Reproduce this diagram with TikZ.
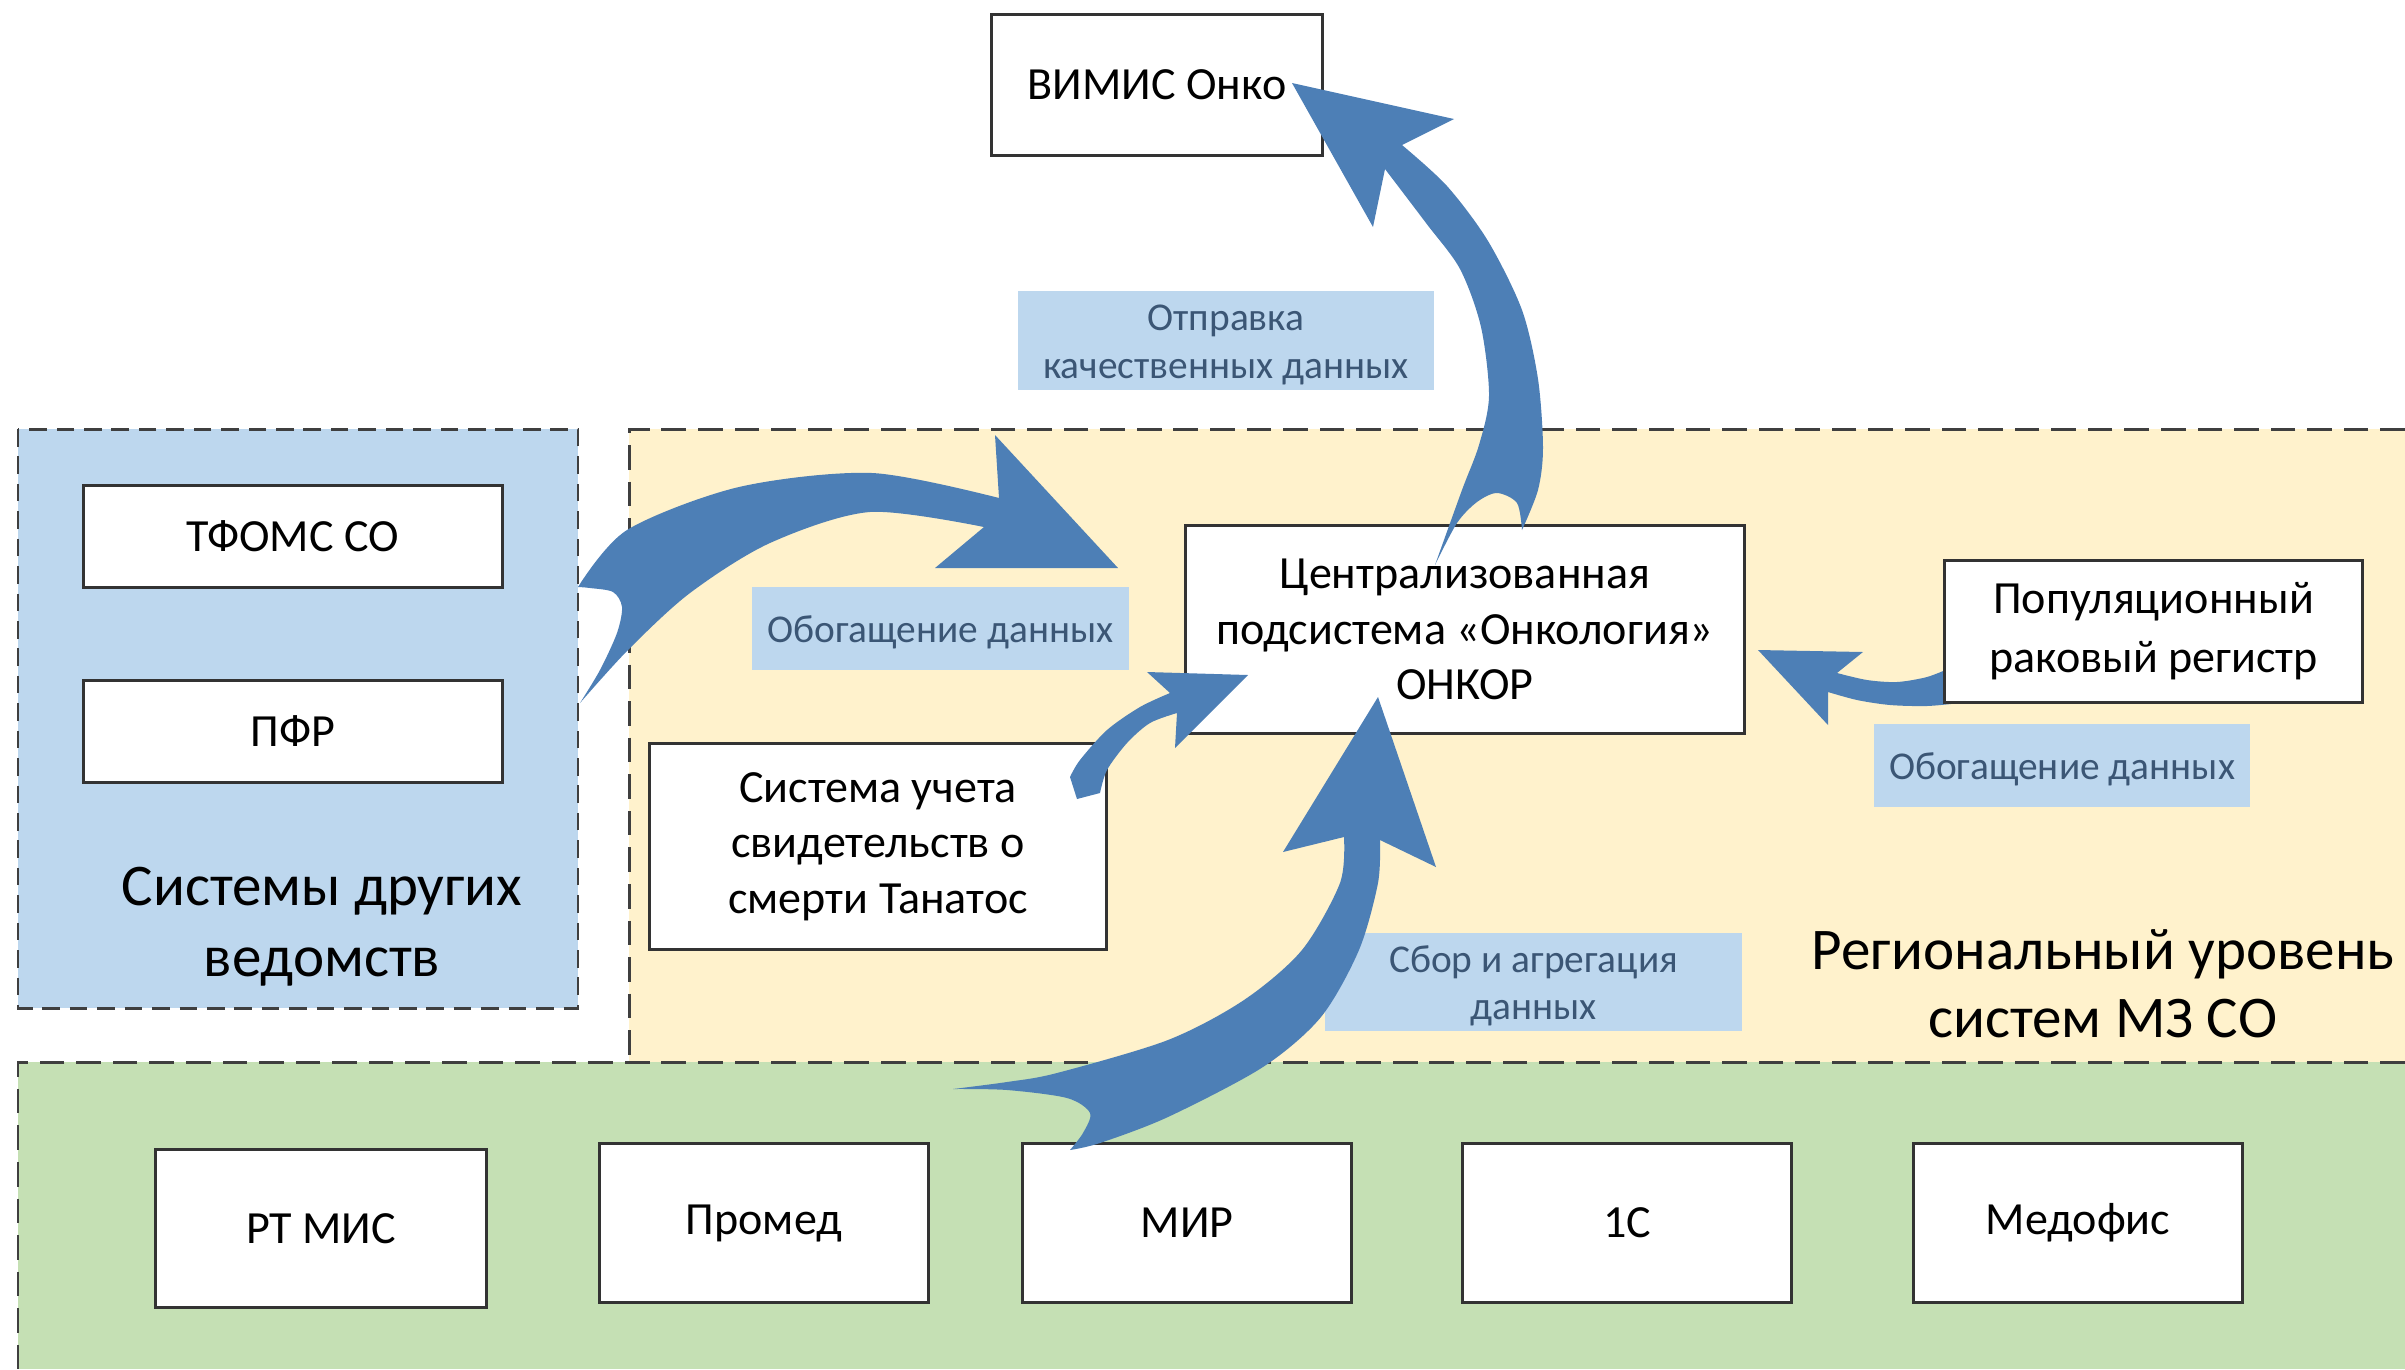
\documentclass[tikz,border=0pt]{standalone}
\usepackage{fontspec}
\setmainfont{Carlito}
\definecolor{regblue}{HTML}{BDD7EE}
\definecolor{regyellow}{HTML}{FFF2CC}
\definecolor{reggreen}{HTML}{C5E0B4}
\definecolor{lblblue}{HTML}{BDD7EE}
\definecolor{lbltext}{HTML}{3B5675}
\definecolor{arrowblue}{HTML}{4D7FB6}
\definecolor{boxline}{HTML}{333333}
\definecolor{dashline}{HTML}{3F3F3F}
\tikzset{
  box/.style={draw=boxline, line width=0.85pt, fill=white, align=center, inner sep=0pt,
    font=\fontsize{13.1}{15.8}\selectfont},
  lblbg/.style={fill=lblblue},
  lbl/.style={text=lbltext, align=center, inner sep=0pt,
    font=\fontsize{11.2}{13.5}\selectfont},
  regionline/.style={draw=dashline, line width=0.85pt, dash pattern=on 7pt off 3.4pt},
  bluedash/.style={draw=dashline, line width=0.85pt, dash pattern=on 5pt off 2.8pt},
  bigtext/.style={align=center, inner sep=0pt, font=\fontsize{16.8}{20.2}\selectfont},
  blockarrow/.style={fill=arrowblue},
}
\begin{document}
\begin{tikzpicture}[x=0.01cm,y=-0.01cm]
\useasboundingbox (0,0) rectangle (2405,1369);
% regions
\fill[regyellow] (629,429) rectangle (2405,1062);
\draw[regionline] (2405,429) -- (629,429) -- (629,1062);
\fill[reggreen] (18,1062) rectangle (2405,1369);
\draw[regionline] (2405,1062) -- (18,1062) -- (18,1369);
\fill[regblue] (18,429) rectangle (578,1008);
\draw[bluedash] (18,429) rectangle (578,1008);

% label backgrounds and texts
\fill[lblblue] (1018,291) rectangle (1434,390);
\fill[lblblue] (752,587) rectangle (1129,670);
\fill[lblblue] (1874,724) rectangle (2250,807);
\fill[lblblue] (1325,933) rectangle (1742,1031);
\node[lbl] (lsend) at (1226,345) {Отправка\\качественных данных};
\node[lbl] (lenr1) at (940.5,632) {Обогащение данных};
\node[lbl] (lenr2) at (2062,769) {Обогащение данных};
\node[lbl] (lcoll) at (1533.5,986) {Сбор и агрегация\\данных};

% arrow from population registry (under the box)
\fill[blockarrow] plot[smooth] coordinates {(1950,668) (1927,677) (1897,682) (1867,680) (1837,673)}
  -- (1863,652) -- (1758,650) -- (1828,725)
  -- plot[smooth] coordinates {(1828,692) (1857,700) (1890,705) (1927,706) (1960,703)}
  -- (1965,690) -- cycle;

% boxes
\node[box, minimum width=3.30cm, minimum height=1.40cm] (vimis) at (1157,85) {ВИМИС Онко};
\node[box, minimum width=5.58cm, minimum height=2.07cm] (onkor) at (1465,629.5) {Централизованная\\подсистема «Онкология»\\ОНКОР};
\node[box, minimum width=4.18cm, minimum height=1.01cm] (tfoms) at (293,536.5) {ТФОМС СО};
\node[box, minimum width=4.18cm, minimum height=1.01cm] (pfr) at (293,731.5) {ПФР};
\node[box, minimum width=4.56cm, minimum height=2.05cm] (tanatos) at (878,846.5) {Система учета\\свидетельств о\\смерти Танатос};
\node[box, minimum width=4.17cm, minimum height=1.41cm, font=\fontsize{13.1}{16.8}\selectfont] (popul) at (2153.5,631.5) {Популяционный\\раковый регистр};
\node[box, minimum width=3.30cm, minimum height=1.57cm] (rtmis) at (321,1228.5) {РТ МИС};
\node[box, minimum width=3.28cm, minimum height=1.58cm] (promed) at (764,1223) {Промед};
\node[box, minimum width=3.28cm, minimum height=1.58cm] (mir) at (1187,1223) {МИР};
\node[box, minimum width=3.28cm, minimum height=1.58cm] (onec) at (1627,1223) {1С};
\node[box, minimum width=3.28cm, minimum height=1.58cm] (medofis) at (2078,1223) {Медофис};

% region titles
\node[bigtext] (tother) at (322,927) {Системы других\\ведомств};
\node[bigtext, font=\fontsize{16.8}{19.3}\selectfont] (tregion) at (2103,984) {Региональный уровень\\систем МЗ СО};

% arrow A: other agencies -> ONKOR
\fill[blockarrow] plot[smooth] coordinates {(578,587) (627,530) (739,487) (872,473) (999,498)}
  -- (995,435) -- (1118,568) -- (935,568)
  -- plot[smooth] coordinates {(984,527) (870,512) (770,543) (690,593) (628,650) (580,703)}
  -- plot[smooth] coordinates {(580,703) (600,670) (617,633) (622,607) (613,592) (590,588) (578,587)}
  -- cycle;

% arrow B: MIR -> ONKOR
\fill[blockarrow] plot[smooth] coordinates {(953,1089) (1007,1082) (1057,1073) (1168,1040) (1244,1000) (1302,950) (1340,883) (1344,837)}
  -- (1283,852) -- (1378,697) -- (1436,867)
  -- plot[smooth] coordinates {(1380,840) (1378,883) (1359,950) (1321,1017) (1263,1067) (1168,1117) (1100,1143) (1070,1150)}
  -- plot[smooth] coordinates {(1070,1150) (1083,1133) (1090,1113) (1067,1098) (1007,1090) (953,1089)}
  -- cycle;

% arrow C: ONKOR -> VIMIS
\fill[blockarrow] plot[smooth] coordinates {(1522,530) (1538,490) (1543,448) (1538,379) (1522,310) (1488,241) (1447,186) (1402,145)}
  -- (1454,119) -- (1292,83) -- (1373,227)
  -- plot[smooth] coordinates {(1385,169) (1426,223) (1460,269) (1481,327) (1489,396) (1479,445) (1462,490) (1435,565)}
  -- plot[smooth] coordinates {(1435,565) (1457,523) (1477,502) (1497,493) (1517,503) (1522,530)}
  -- cycle;

% arrow D: Tanatos -> ONKOR
\fill[blockarrow] plot[smooth] coordinates {(1070,777) (1080,760) (1107,730) (1140,707) (1170,693)}
  -- (1147,672) -- (1248,675) -- (1175,748)
  -- plot[smooth] coordinates {(1177,713) (1150,723) (1127,743) (1107,770) (1100,793)}
  -- (1077,799) -- cycle;
\end{tikzpicture}
\end{document}
